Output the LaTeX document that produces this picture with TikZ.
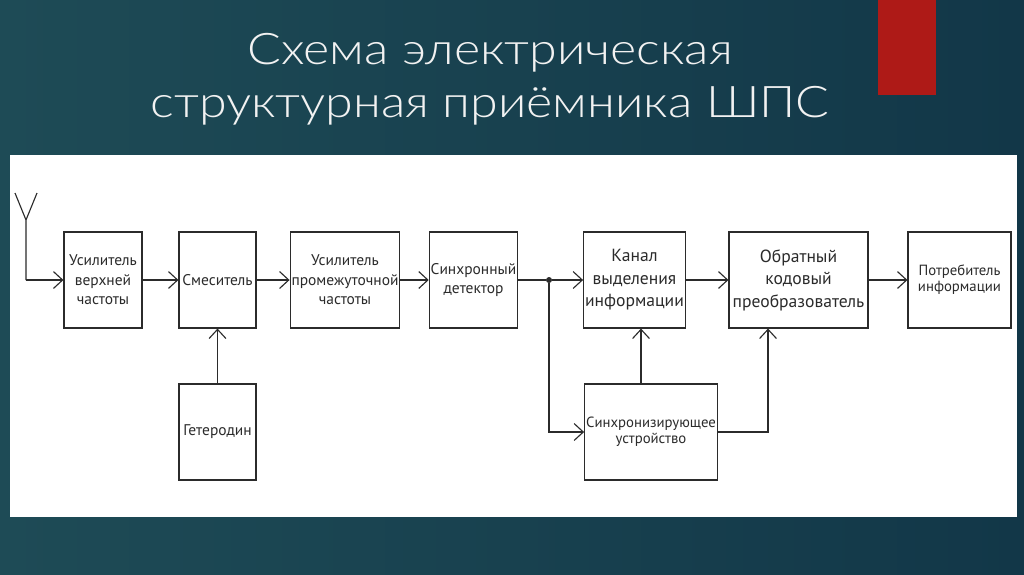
\documentclass[tikz,border=0pt]{standalone}
\usepackage{fontspec}
\usepackage{xcolor}
\usepackage{tikz}
\usetikzlibrary{arrows.meta, positioning}
\IfFontExistsTF{Lato Light}
  {\newfontfamily\titlefont{Lato Light}[FakeStretch=1.15]}
  {\newfontfamily\titlefont{Lato}[FakeStretch=1.15]}
\newfontfamily\blokfont{PT Sans}
\definecolor{fonL}{HTML}{1E4B56}
\definecolor{fonM}{HTML}{2A5D60}
\definecolor{fonR}{HTML}{123748}
\definecolor{krasn}{HTML}{AE1A17}
\definecolor{linia}{HTML}{2B2B2B}
\tikzset{
  blok/.style={
    draw = linia,
    line width = 0.8pt,
    fill = white,
    align = center,
    inner sep = 1pt,
    text = linia,
    font = \blokfont\fontsize{11}{13.8}\selectfont
  },
  razm/.style 2 args={
    minimum width = #1*0.025cm,
    minimum height = #2*0.025cm
  },
  krupno/.style={font = \blokfont\fontsize{12.5}{16}\selectfont},
  melko/.style={font = \blokfont\fontsize{10.5}{11.5}\selectfont}
}
\tikzset{
  strelka/.style={
    draw = linia,
    line width = 0.8pt,
    -{Straight Barb[length=6.5pt, width=12pt]}
  },
  provod/.style={draw = linia, line width = 0.8pt},
  tochka/.style={circle, fill = linia, inner sep = 1.5pt},
  zagolovok/.style={text = white!95!black, font = \titlefont\fontsize{31}{36}\selectfont}
}

\begin{document}
\begin{tikzpicture}[x=0.025cm, y=-0.025cm]
\newcommand\YMain{280}
\newcommand\YLow{432}
% background and title
\shade[left color=fonL, middle color=fonM, right color=fonR] (0,0) rectangle (1024,574);
\useasboundingbox (0,0) rectangle (1024,574);
\fill[krasn] (878,0) rectangle (936,95);
\node[zagolovok, anchor=base] (zag1) at (490,64) {Схема электрическая};
\node[zagolovok, anchor=base] (zag2) at (490,117) {структурная приёмника ШПС};
\fill[white] (10,155) rectangle (1017,517);

% antenna
\coordinate (antL) at (15,193);
\coordinate (antR) at (37,193);
\coordinate (antB) at (26,220);
\coordinate (antD) at (26,\YMain);
\draw[provod] (antL) -- (antB) -- (antR) (antB) -- (antD);

% upper row
\node[blok, razm={78}{96}] (usil1) at (103,\YMain) {Усилитель\\верхней\\частоты};
\node[blok, razm={77}{96}] (smes) at (217.5,\YMain) {Смеситель};
\node[blok, razm={104}{96}] (upch) at (345,\YMain) {Усилитель\\промежуточной\\частоты};
\node[blok, razm={77}{96}] (sd) at (473.5,\YMain) {Синхронный\\детектор};
\node[blok, krupno, razm={93}{96}] (kvi) at (634.5,\YMain) {Канал\\выделения\\информации};
\node[blok, krupno, razm={139}{96}] (okp) at (798.5,\YMain) {Обратный\\кодовый\\преобразователь};
\node[blok, melko, razm={103}{96}] (potr) at (959.5,\YMain) {Потребитель\\информации};
% lower row
\node[blok, razm={77}{96}] (getr) at (217.5,\YLow) {Гетеродин};
\node[blok, melko, razm={128}{96}] (sync) at (651,\YLow) {Синхронизирующее\\устройство};
\node[tochka] (uzel) at (549,\YMain) {};
\coordinate (xk) at (641,0);
\coordinate (xo) at (768,0);

\path (antD) edge[strelka] (usil1)
      (usil1) edge[strelka] (smes)
      (smes)  edge[strelka] (upch)
      (upch)  edge[strelka] (sd)
      (uzel)  edge[strelka] (kvi)
      (kvi)   edge[strelka] (okp)
      (okp)   edge[strelka] (potr)
      (getr)  edge[strelka] (smes);
\draw[provod] (sd) -- (uzel);
\draw[strelka] (uzel) |- (sync);
\draw[strelka] (xk |- sync.north) -- (xk |- kvi.south);
\draw[strelka] (sync.east) -- (xo |- sync.east) -- (xo |- okp.south);
\end{tikzpicture}
\end{document}
